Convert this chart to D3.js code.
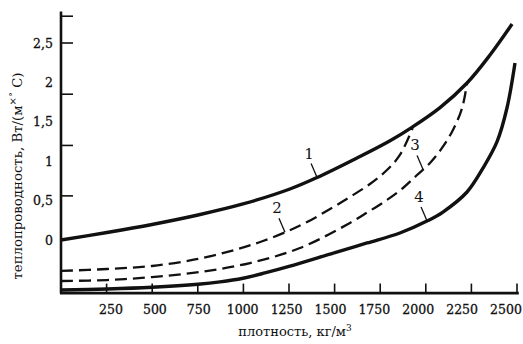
<!DOCTYPE html>
<html><head><meta charset="utf-8">
<script src="https://cdn.jsdelivr.net/npm/d3@7"></script>
<style>body{margin:0;background:#fff}svg{display:block}</style>
</head><body>
<svg id="c" width="523" height="344"></svg>
<script>
// ---- data ----
const xTicks = [250,500,750,1000,1250,1500,1750,2000,2250,2500];
const yTickLabels = ["0","0,5","1","1,5","2","2,5"];
const yLabelValues = [0,0.5,1,1.5,2,2.5];
const yTickMarks = [0.56,1.2,1.85,2.5,2.84];
const curve1 = [[0,0],[252,0.095],[499,0.197],[751,0.317],[998,0.457],[1255,0.647],[1404,0.793],[1623,1.041],[1804,1.26],[1924,1.43],[2078,1.68],[2226,1.992],[2352,2.348],[2473,2.741]];
const curve2 = [[0,-0.393],[252,-0.368],[499,-0.330],[751,-0.241],[970,-0.114],[1107,-0.013],[1245,0.114],[1349,0.228],[1475,0.393],[1584,0.546],[1694,0.711],[1787,0.888],[1858,1.079],[1928,1.42]];
const curve3 = [[0,-0.520],[252,-0.508],[499,-0.470],[762,-0.406],[1036,-0.292],[1310,-0.102],[1584,0.216],[1683,0.355],[1787,0.508],[1875,0.660],[1952,0.825],[2023,0.977],[2089,1.168],[2149,1.396],[2199,1.675],[2226,1.992]];
const curve4 = [[0,-0.635],[252,-0.622],[499,-0.600],[751,-0.562],[872,-0.532],[998,-0.485],[1118,-0.418],[1250,-0.335],[1502,-0.159],[1678,-0.038],[1858,0.089],[2012,0.247],[2094,0.355],[2226,0.609],[2314,0.914],[2390,1.244],[2445,1.675],[2489,2.246]];
const curveNames = ["1","2","3","4"];
const curveAt = [1404, 1228, 1985, 2007]; // x value where each label's leader touches its curve
const xTitle = "плотность, кг/м";
const yTitle = ["теплопроводность, Вт/(м", "×°", " С)"];

// ---- scales ----
const svg = d3.select("#c");
const font = "DejaVu Serif, Liberation Serif, serif";
const x = d3.scaleLinear().domain([0,2500]).range([61,517]);
const xLab = d3.scaleLinear().domain([250,2500]).range([111,506]);
const y = d3.scaleLinear().domain([0,2.5]).range([240,43]);
const yMin = -0.68, yMax = 2.9, xMaxAxis = 2510;

// axes
svg.append("line").attr("x1",x(0)).attr("x2",x(0)).attr("y1",y(yMax)).attr("y2",y(yMin))
  .attr("stroke","#111").attr("stroke-width",2.6);
svg.append("line").attr("x1",x(0)-1).attr("x2",x(xMaxAxis)).attr("y1",y(yMin)-0.5).attr("y2",y(yMin)-0.5)
  .attr("stroke","#111").attr("stroke-width",2.6);
svg.selectAll(".xt").data(xTicks).enter().append("line")
  .attr("x1",d=>x(d)).attr("x2",d=>x(d)).attr("y1",y(yMin)).attr("y2",y(yMin)-10)
  .attr("stroke","#111").attr("stroke-width",1.6);
svg.selectAll(".yt").data(yTickMarks).enter().append("line")
  .attr("x1",x(0)).attr("x2",x(0)+12).attr("y1",d=>y(d)).attr("y2",d=>y(d))
  .attr("stroke","#111").attr("stroke-width",1.6);
svg.selectAll(".xl").data(xTicks).enter().append("text")
  .attr("x",d=>xLab(d)).attr("y",314).attr("text-anchor","middle")
  .attr("font-family",font).attr("font-size",12.5).attr("fill","#111")
  .attr("stroke","#111").attr("stroke-width",0.3).text(d=>d);
svg.selectAll(".yl").data(yLabelValues).enter().append("text")
  .attr("x",53).attr("y",d=>y(d)).attr("dy","0.36em").attr("text-anchor","end")
  .attr("font-family",font).attr("font-size",12.5).attr("fill","#111")
  .attr("stroke","#111").attr("stroke-width",0.3).text((d,i)=>yTickLabels[i]);

// titles
const xt = svg.append("text").attr("x",295).attr("y",336).attr("text-anchor","middle")
  .attr("font-family",font).attr("font-size",13).attr("fill","#111");
xt.append("tspan").text(xTitle);
xt.append("tspan").attr("dy",-5).attr("font-size",9).text("3");
const yt = svg.append("text").attr("transform","translate(22,176) rotate(-90)").attr("text-anchor","middle")
  .attr("font-family",font).attr("font-size",13.3).attr("fill","#111");
yt.append("tspan").text(yTitle[0]);
yt.append("tspan").attr("dy",-6).attr("font-size",10).text(yTitle[1]);
yt.append("tspan").attr("dy",6).text(yTitle[2]);

// curves
const line = d3.line().x(d=>x(d[0])).y(d=>y(d[1])).curve(d3.curveCatmullRom.alpha(0.5));
const series = [curve1,curve2,curve3,curve4];
const dashed = [false,true,true,false];
series.forEach((s,i)=>{
  svg.append("path").attr("d",line(s)).attr("fill","none").attr("stroke","#111")
    .attr("stroke-width",dashed[i]?2.3:3.4)
    .attr("stroke-dasharray",dashed[i]?"12,6":null);
});

// curve labels with leaders
function valueAt(s, xv){
  for(let i=1;i<s.length;i++){ if(xv<=s[i][0]){const a=s[i-1],b=s[i];const t=(xv-a[0])/(b[0]-a[0]);return a[1]+t*(b[1]-a[1]);} }
  return s[s.length-1][1];
}
series.forEach((s,i)=>{
  const px = x(curveAt[i]), py = y(valueAt(s,curveAt[i]));
  svg.append("line").attr("x1",px-6).attr("y1",py-14).attr("x2",px).attr("y2",py)
    .attr("stroke","#111").attr("stroke-width",1.3);
  svg.append("text").attr("x",px-8).attr("y",py-19).attr("text-anchor","middle")
    .attr("font-family",font).attr("font-size",15).attr("fill","#111").text(curveNames[i]);
});
</script>
</body></html>
